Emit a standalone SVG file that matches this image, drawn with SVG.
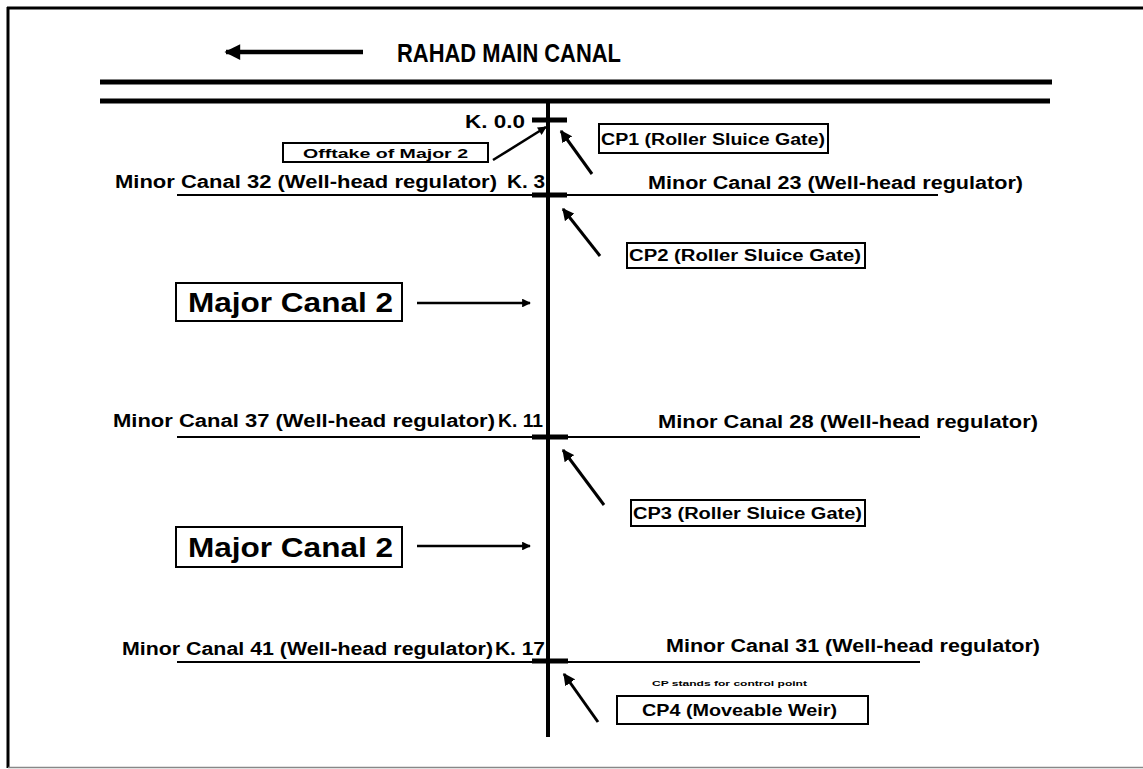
<svg xmlns="http://www.w3.org/2000/svg" width="1143" height="769" viewBox="0 0 1143 769">
<style>
  .t { font-family: "Liberation Sans", Arial, sans-serif; font-weight: bold; fill: #000; }
  .lbl { font-size: 18px; }
  .cp { font-size: 16px; }
  .big { font-size: 27px; }
  .box { fill: #fff; stroke: #000; stroke-width: 2; }
  .canal { stroke: #000; stroke-width: 2; fill: none; }
  .tick { stroke: #000; stroke-width: 5; fill: none; }
  .arr { stroke: #000; stroke-width: 3; fill: none; marker-end: url(#ah); }
  .arr2 { stroke: #000; stroke-width: 2.5; fill: none; marker-end: url(#ah2); }
  .arrT { stroke: #000; stroke-width: 4.5; fill: none; marker-end: url(#ah2); }
</style>
<defs>
  <marker id="ah" viewBox="0 0 10 10" refX="9" refY="5" markerWidth="4" markerHeight="4" orient="auto" markerUnits="strokeWidth">
    <path d="M0,0 L10,5 L0,10 Z" fill="#000"/>
  </marker>
  <marker id="ah2" viewBox="0 0 10 10" refX="9" refY="5" markerWidth="4" markerHeight="3.5" orient="auto" markerUnits="strokeWidth">
    <path d="M0,0 L10,5 L0,10 Z" fill="#000"/>
  </marker>
</defs>
<rect x="0" y="0" width="1143" height="769" fill="#fff"/>

<g id="frame">
  <line x1="7" y1="8" x2="1143" y2="8" stroke="#000" stroke-width="3"/>
  <line x1="8" y1="7" x2="8" y2="768" stroke="#000" stroke-width="3"/>
  <line x1="8" y1="767.5" x2="1143" y2="767.5" stroke="#888" stroke-width="1.5"/>
</g>

<g id="main-canal">
  <line x1="100" y1="82" x2="1052" y2="82" stroke="#000" stroke-width="5"/>
  <line x1="100" y1="101" x2="1050" y2="101" stroke="#000" stroke-width="5"/>
  <text class="t" x="397" y="62" font-size="26" textLength="224" lengthAdjust="spacingAndGlyphs">RAHAD MAIN CANAL</text>
</g>

<g id="distributary">
  <line x1="548" y1="100" x2="548" y2="737" stroke="#000" stroke-width="4"/>
  <line class="tick" x1="532" y1="120" x2="567" y2="120"/>
  <text class="t lbl" x="465" y="128" textLength="60" lengthAdjust="spacingAndGlyphs">K. 0.0</text>
</g>

<g id="offtake">
  <rect class="box" x="283" y="143" width="205" height="19"/>
  <text class="t" x="303" y="158" font-size="13" textLength="165" lengthAdjust="spacingAndGlyphs">Offtake of Major 2</text>
</g>

<g id="cp1">
  <rect class="box" x="599" y="124" width="229" height="29"/>
  <text class="t cp" x="601" y="145" textLength="224" lengthAdjust="spacingAndGlyphs">CP1 (Roller Sluice Gate)</text>
</g>

<g id="k3">
  <line class="canal" x1="177" y1="195" x2="938" y2="195"/>
  <line class="tick" x1="532" y1="195" x2="567" y2="195"/>
  <text class="t lbl" x="115" y="188" textLength="382" lengthAdjust="spacingAndGlyphs">Minor Canal 32 (Well-head regulator)</text>
  <text class="t lbl" x="507" y="188" textLength="38" lengthAdjust="spacingAndGlyphs">K. 3</text>
  <text class="t lbl" x="648" y="189" textLength="375" lengthAdjust="spacingAndGlyphs">Minor Canal 23 (Well-head regulator)</text>
</g>

<g id="cp2">
  <rect class="box" x="627" y="243" width="238" height="25"/>
  <text class="t cp" x="629" y="261" textLength="232" lengthAdjust="spacingAndGlyphs">CP2 (Roller Sluice Gate)</text>
</g>

<g id="major1">
  <rect class="box" x="176" y="283" width="226" height="38"/>
  <text class="t big" x="188" y="312" textLength="205" lengthAdjust="spacingAndGlyphs">Major Canal 2</text>
</g>

<g id="k11">
  <line class="canal" x1="177" y1="437" x2="920" y2="437"/>
  <line class="tick" x1="532" y1="437" x2="568" y2="437"/>
  <text class="t lbl" x="113" y="427" textLength="382" lengthAdjust="spacingAndGlyphs">Minor Canal 37 (Well-head regulator)</text>
  <text class="t lbl" x="498" y="427" textLength="45" lengthAdjust="spacingAndGlyphs">K. 11</text>
  <text class="t lbl" x="658" y="428" textLength="380" lengthAdjust="spacingAndGlyphs">Minor Canal 28  (Well-head regulator)</text>
</g>

<g id="cp3">
  <rect class="box" x="631" y="500" width="234" height="26"/>
  <text class="t cp" x="633" y="519" textLength="229" lengthAdjust="spacingAndGlyphs">CP3 (Roller Sluice Gate)</text>
</g>

<g id="major2">
  <rect class="box" x="176" y="527" width="226" height="40"/>
  <text class="t big" x="188" y="557" textLength="205" lengthAdjust="spacingAndGlyphs">Major Canal 2</text>
</g>

<g id="k17">
  <line class="canal" x1="177" y1="662" x2="920" y2="662"/>
  <line class="tick" x1="532" y1="661" x2="568" y2="661"/>
  <text class="t lbl" x="122" y="655" textLength="371" lengthAdjust="spacingAndGlyphs">Minor Canal 41 (Well-head regulator)</text>
  <text class="t lbl" x="495" y="655" textLength="50" lengthAdjust="spacingAndGlyphs">K. 17</text>
  <text class="t lbl" x="666" y="652" textLength="374" lengthAdjust="spacingAndGlyphs">Minor Canal 31  (Well-head regulator)</text>
</g>

<g id="note">
  <text class="t" x="652" y="686" font-size="7" textLength="155" lengthAdjust="spacingAndGlyphs">CP stands for control point</text>
</g>

<g id="cp4">
  <rect class="box" x="617" y="696" width="251" height="28"/>
  <text class="t" x="642" y="716" font-size="17" textLength="195" lengthAdjust="spacingAndGlyphs">CP4 (Moveable Weir)</text>
</g>

<g id="connectors">
  <line class="arrT" x1="363" y1="52" x2="226" y2="52"/>
  <line class="arr2" x1="493" y1="160" x2="546" y2="127"/>
  <line class="arr" x1="592" y1="174" x2="561" y2="131"/>
  <line class="arr" x1="600" y1="256" x2="563" y2="209"/>
  <line class="arr2" x1="417" y1="303" x2="530" y2="303"/>
  <line class="arr" x1="604" y1="505" x2="563" y2="450"/>
  <line class="arr2" x1="417" y1="546" x2="530" y2="546"/>
  <line class="arr" x1="598" y1="722" x2="564" y2="674"/>
</g>
</svg>
